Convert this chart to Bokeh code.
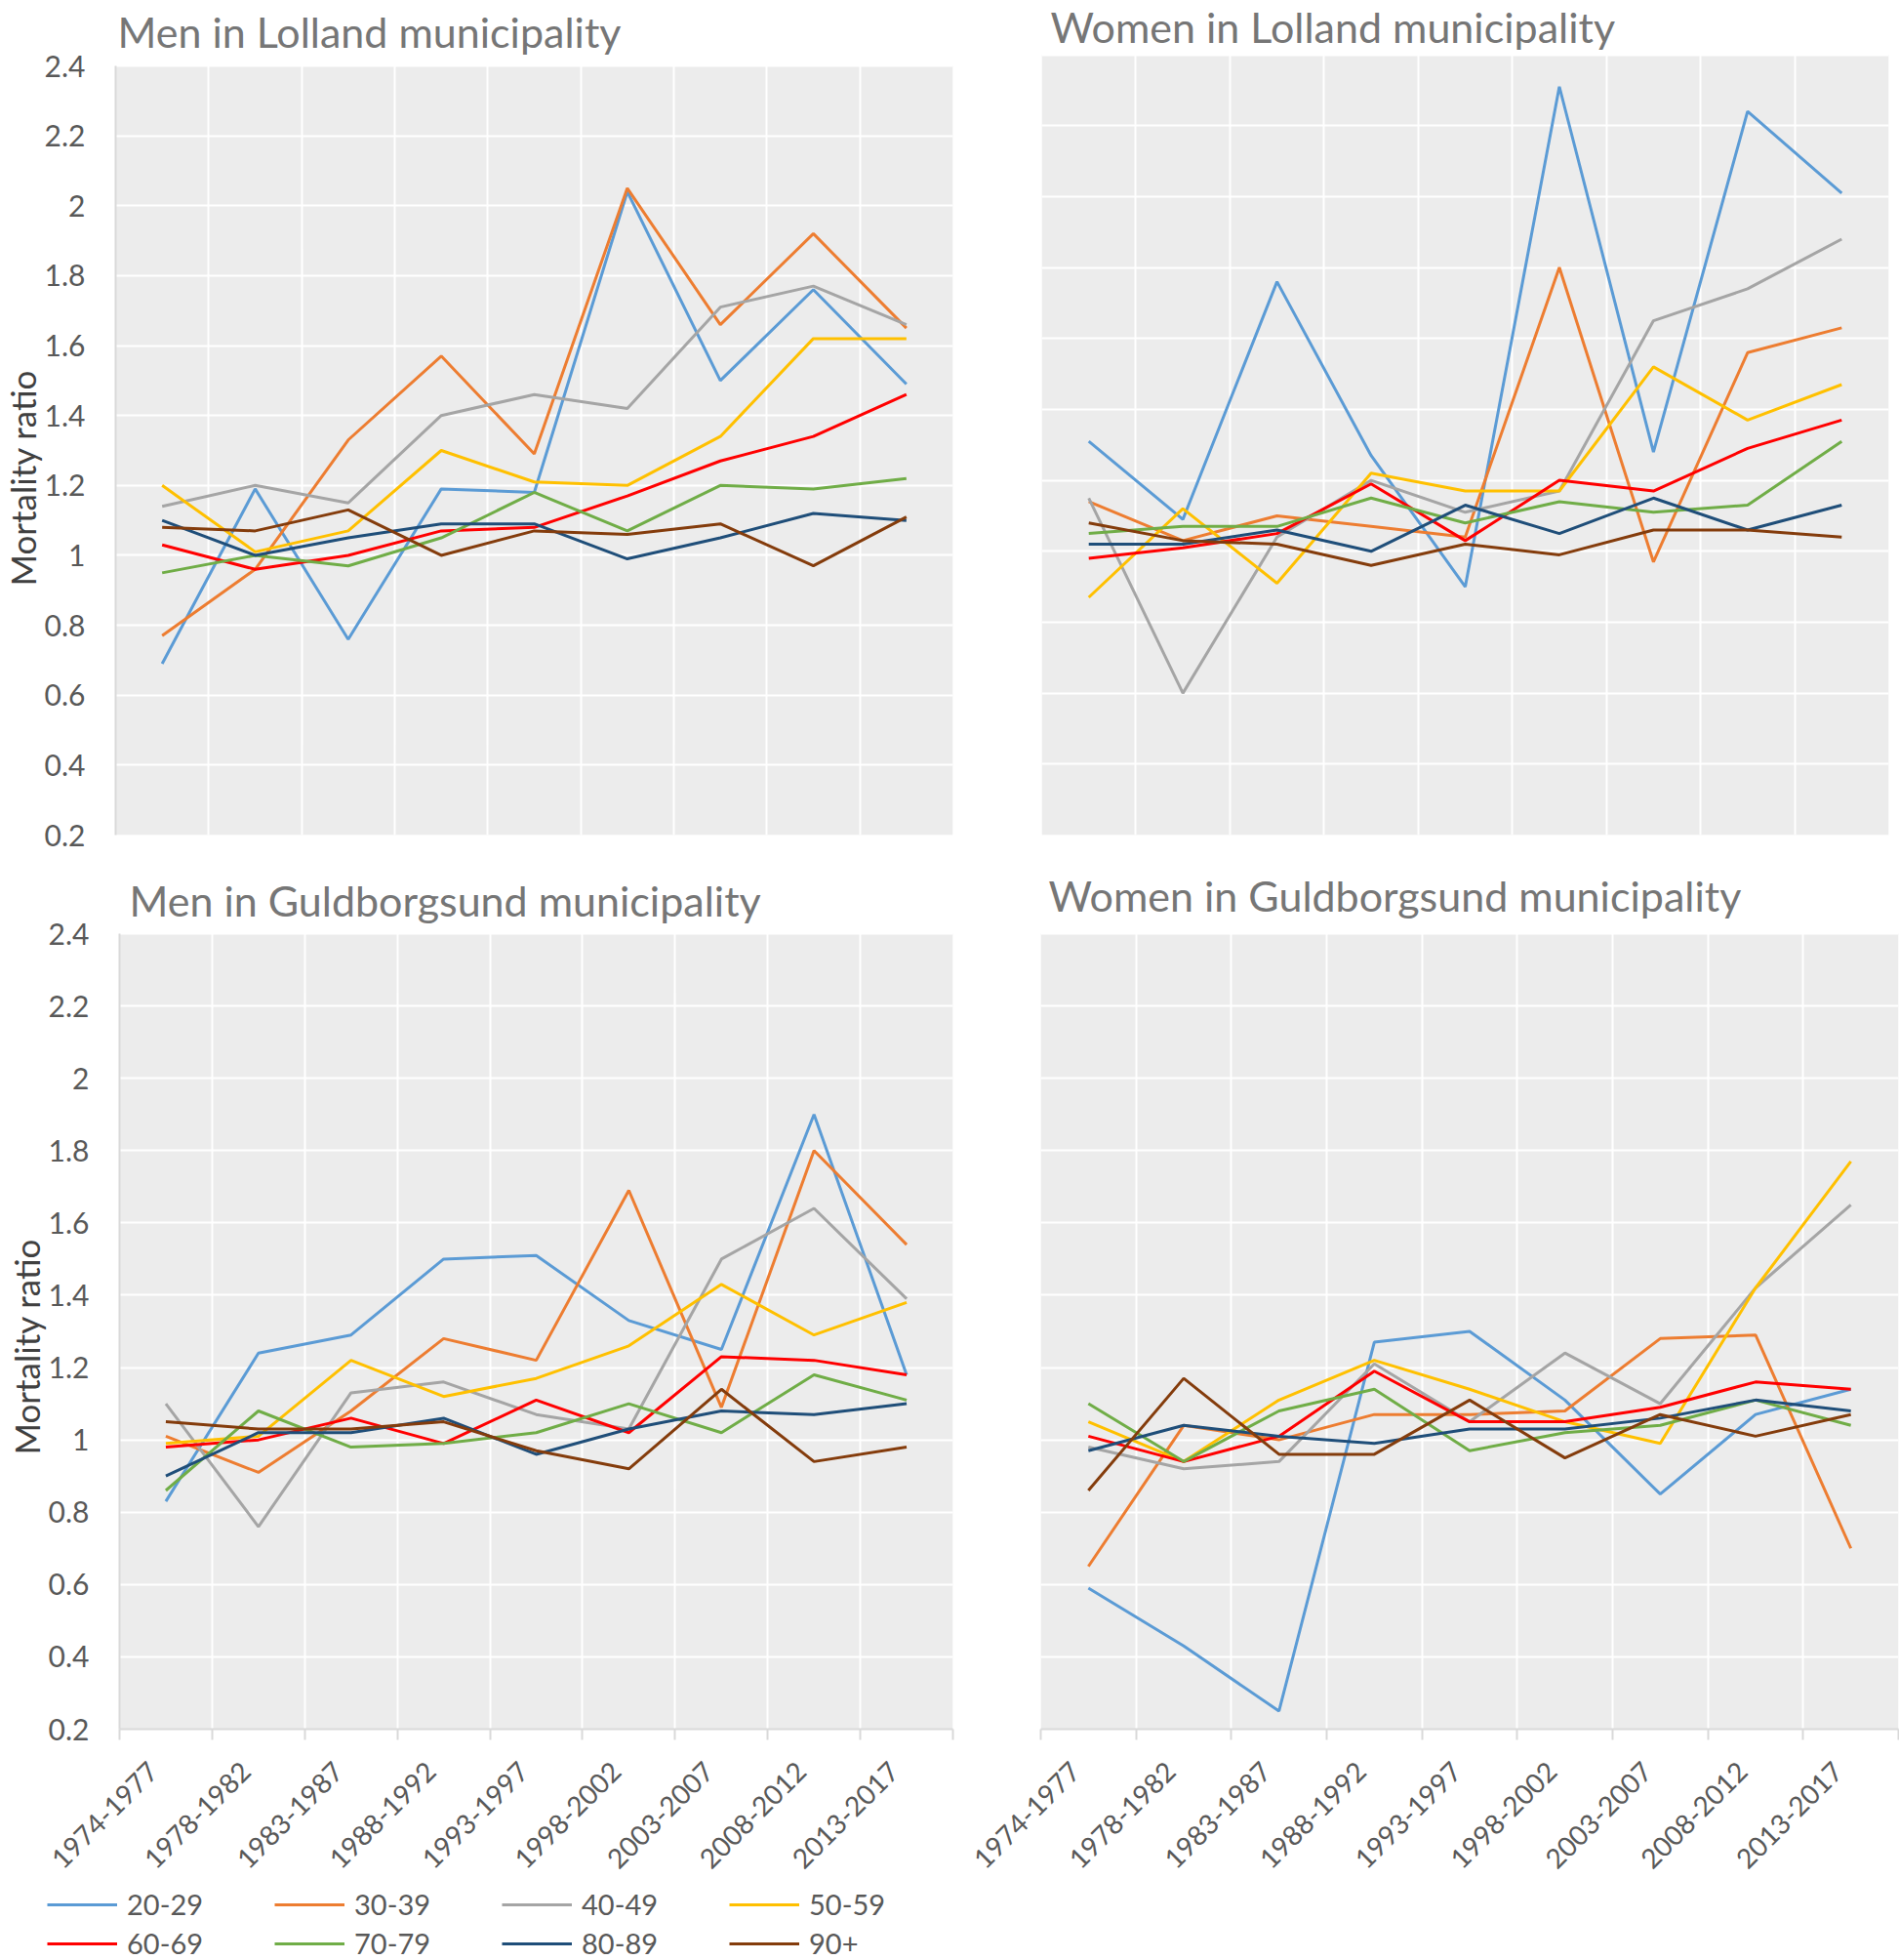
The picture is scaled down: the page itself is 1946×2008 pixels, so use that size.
import math
from bokeh.plotting import figure
from bokeh.models import (Range1d, FixedTicker, NumeralTickFormatter, Label, Legend,
                          LegendItem, BoxAnnotation, Title)
from bokeh.layouts import row, column
from bokeh.embed import file_html
from bokeh.resources import INLINE

# ---------------- data ----------------
periods = ["1974-1977", "1978-1982", "1983-1987", "1988-1992", "1993-1997",
           "1998-2002", "2003-2007", "2008-2012", "2013-2017"]
age_groups = ["20-29", "30-39", "40-49", "50-59", "60-69", "70-79", "80-89", "90+"]
colors = ["#5B9BD5", "#ED7D31", "#A5A5A5", "#FFC000", "#FF0000", "#70AD47", "#1F4E79", "#843C0C"]
y_ticks = [0.2, 0.4, 0.6, 0.8, 1.0, 1.2, 1.4, 1.6, 1.8, 2.0, 2.2, 2.4]
Y_MIN, Y_MAX = 0.2, 2.4

# Men in Lolland municipality
men_lolland = [
    [0.69, 1.19, 0.76, 1.19, 1.18, 2.04, 1.50, 1.76, 1.49],  # 20-29
    [0.77, 0.96, 1.33, 1.57, 1.29, 2.05, 1.66, 1.92, 1.65],  # 30-39
    [1.14, 1.20, 1.15, 1.40, 1.46, 1.42, 1.71, 1.77, 1.66],  # 40-49
    [1.20, 1.01, 1.07, 1.30, 1.21, 1.20, 1.34, 1.62, 1.62],  # 50-59
    [1.03, 0.96, 1.00, 1.07, 1.08, 1.17, 1.27, 1.34, 1.46],  # 60-69
    [0.95, 1.00, 0.97, 1.05, 1.18, 1.07, 1.20, 1.19, 1.22],  # 70-79
    [1.10, 1.00, 1.05, 1.09, 1.09, 0.99, 1.05, 1.12, 1.10],  # 80-89
    [1.08, 1.07, 1.13, 1.00, 1.07, 1.06, 1.09, 0.97, 1.11],  # 90+
]
# Women in Lolland municipality
women_lolland = [
    [1.31, 1.09, 1.76, 1.27, 0.90, 2.31, 1.28, 2.24, 2.01],
    [1.14, 1.03, 1.10, 1.07, 1.04, 1.80, 0.97, 1.56, 1.63],
    [1.15, 0.60, 1.04, 1.20, 1.11, 1.17, 1.65, 1.74, 1.88],
    [0.87, 1.12, 0.91, 1.22, 1.17, 1.17, 1.52, 1.37, 1.47],
    [0.98, 1.01, 1.05, 1.19, 1.03, 1.20, 1.17, 1.29, 1.37],
    [1.05, 1.07, 1.07, 1.15, 1.08, 1.14, 1.11, 1.13, 1.31],
    [1.02, 1.02, 1.06, 1.00, 1.13, 1.05, 1.15, 1.06, 1.13],
    [1.08, 1.03, 1.02, 0.96, 1.02, 0.99, 1.06, 1.06, 1.04],
]
# Men in Guldborgsund municipality
men_guldborgsund = [
    [0.83, 1.24, 1.29, 1.50, 1.51, 1.33, 1.25, 1.90, 1.18],
    [1.01, 0.91, 1.08, 1.28, 1.22, 1.69, 1.09, 1.80, 1.54],
    [1.10, 0.76, 1.13, 1.16, 1.07, 1.03, 1.50, 1.64, 1.39],
    [0.99, 1.01, 1.22, 1.12, 1.17, 1.26, 1.43, 1.29, 1.38],
    [0.98, 1.00, 1.06, 0.99, 1.11, 1.02, 1.23, 1.22, 1.18],
    [0.86, 1.08, 0.98, 0.99, 1.02, 1.10, 1.02, 1.18, 1.11],
    [0.90, 1.02, 1.02, 1.06, 0.96, 1.03, 1.08, 1.07, 1.10],
    [1.05, 1.03, 1.03, 1.05, 0.97, 0.92, 1.14, 0.94, 0.98],
]
# Women in Guldborgsund municipality
women_guldborgsund = [
    [0.59, 0.43, 0.25, 1.27, 1.30, 1.11, 0.85, 1.07, 1.14],
    [0.65, 1.04, 1.00, 1.07, 1.07, 1.08, 1.28, 1.29, 0.70],
    [0.98, 0.92, 0.94, 1.21, 1.05, 1.24, 1.10, 1.42, 1.65],
    [1.05, 0.94, 1.11, 1.22, 1.14, 1.05, 0.99, 1.42, 1.77],
    [1.01, 0.94, 1.01, 1.19, 1.05, 1.05, 1.09, 1.16, 1.14],
    [1.10, 0.94, 1.08, 1.14, 0.97, 1.02, 1.04, 1.11, 1.04],
    [0.97, 1.04, 1.01, 0.99, 1.03, 1.03, 1.06, 1.11, 1.08],
    [0.86, 1.17, 0.96, 0.96, 1.11, 0.95, 1.07, 1.01, 1.07],
]

FONT = "Lato"
GREY_TXT = "#595959"
TITLE_TXT = "#767676"
AXIS_LINE = "#D9D9D9"
PLOT_BG = "#ECECEC"

x_idx = list(range(len(periods)))
boundaries = [i - 0.5 for i in range(len(periods) + 1)]
label_pos = [i - 0.14 for i in x_idx]   # anchor points of the rotated period labels


def make_panel(series, title, width, height, bl, br, title_space, data_px, bb,
               title_dx, title_y, show_y, show_x, ylabel_offset=0):
    """title_space: pixels above the grey plot area (inside the frame, holds the title);
    data_px: height of the grey plot area in pixels."""
    y_top = Y_MAX + title_space * (Y_MAX - Y_MIN) / data_px
    p = figure(width=width, height=height,
               x_range=Range1d(-0.5, len(periods) - 0.5), y_range=Range1d(Y_MIN, y_top),
               output_backend="svg", toolbar_location=None,
               min_border_left=bl, min_border_right=br,
               min_border_top=0, min_border_bottom=bb)
    p.background_fill_color = "white"
    p.border_fill_color = "white"
    p.outline_line_color = None

    # grey plot area
    p.add_layout(BoxAnnotation(left=-0.5, right=len(periods) - 0.5, bottom=Y_MIN, top=Y_MAX,
                               fill_color=PLOT_BG, fill_alpha=1.0, line_color=None,
                               level="image"))

    # grid
    p.xgrid.ticker = FixedTicker(ticks=boundaries)
    p.ygrid.ticker = FixedTicker(ticks=y_ticks)
    for g in (p.xgrid, p.ygrid):
        g.grid_line_color = "white"
        g.grid_line_width = 2

    # x axis
    xa = p.xaxis[0]
    if show_x:
        xa.ticker = FixedTicker(ticks=label_pos, minor_ticks=boundaries)
        xa.major_label_overrides = {pos: lbl for pos, lbl in zip(label_pos, periods)}
        xa.major_label_orientation = math.pi / 4
        xa.major_tick_out = 11
        xa.major_tick_in = 0
        xa.major_tick_line_color = None
        xa.minor_tick_out = 11
        xa.minor_tick_in = 0
        xa.minor_tick_line_color = AXIS_LINE
        xa.minor_tick_line_width = 2
        xa.axis_line_color = AXIS_LINE
        xa.axis_line_width = 2
        xa.major_label_text_font = FONT
        xa.major_label_text_font_size = "28px"
        xa.major_label_text_color = GREY_TXT
        xa.major_label_standoff = 27
    else:
        xa.visible = False

    # y axis
    ya = p.yaxis[0]
    if show_y:
        ya.bounds = (Y_MIN, Y_MAX)
        ya.ticker = FixedTicker(ticks=y_ticks)
        ya.formatter = NumeralTickFormatter(format="0.[0]")
        ya.major_tick_out = 0
        ya.major_tick_in = 0
        ya.minor_tick_out = 0
        ya.minor_tick_in = 0
        ya.axis_line_color = AXIS_LINE
        ya.axis_line_width = 2
        ya.major_label_text_font = FONT
        ya.major_label_text_font_size = "30px"
        ya.major_label_text_color = GREY_TXT
        ya.major_label_standoff = 31
        # vertical axis title, placed beside the grey plot area
        p.add_layout(Title(text="Mortality ratio", align="left", offset=ylabel_offset,
                           vertical_align="top", standoff=-6,
                           text_font=FONT, text_font_size="35px", text_font_style="normal",
                           text_color="#404040"), "left")
    else:
        ya.visible = False

    renderers = []
    for vals, col in zip(series, colors):
        r = p.line(x_idx, vals, line_color=col, line_width=3)
        renderers.append(r)

    frame_h = title_space + data_px
    p.add_layout(Label(x=title_dx, y=frame_h - title_y, x_units="screen", y_units="screen",
                       text=title, text_font=FONT, text_font_size="43px",
                       text_color=TITLE_TXT, text_baseline="alphabetic", text_align="left"))
    return p, renderers


# top row: 880 px tall; bottom row: 1053 px tall; legend strip: 75 px
p1, _ = make_panel(men_lolland, "Men in Lolland municipality",
                   1000, 880, 118, 24, 67, 788, 25, 2, 32, True, False, ylabel_offset=255)
p2, _ = make_panel(women_lolland, "Women in Lolland municipality",
                   946, 880, 67, 11, 56, 806, 18, 9, 34, False, False)
p3, _ = make_panel(men_guldborgsund, "Men in Guldborgsund municipality",
                   978, 1053, 122, 2, 76, 815, 162, 10, 42, True, True, ylabel_offset=281)
p4, _ = make_panel(women_guldborgsund, "Women in Guldborgsund municipality",
                   968, 1053, 88, 1, 76, 816, 161, 8, 38, False, True)

# legend strip below the left-hand charts (its lines lie outside the strip's visible range)
pl = figure(width=1000, height=75, x_range=Range1d(0, 1), y_range=Range1d(10, 11),
            output_backend="svg", toolbar_location=None,
            min_border_left=0, min_border_right=0, min_border_top=0, min_border_bottom=0)
pl.xaxis.visible = False
pl.yaxis.visible = False
pl.grid.visible = False
pl.outline_line_color = None
pl.background_fill_color = "white"
leg_items = []
for a, vals, col in zip(age_groups, men_guldborgsund, colors):
    r = pl.line(x_idx, vals, line_color=col, line_width=3)
    leg_items.append(LegendItem(label=a, renderers=[r]))
legend = Legend(items=leg_items, location=(48, 0), orientation="horizontal", ncols=4,
                glyph_width=72, glyph_height=24, label_height=24, label_width=146,
                label_standoff=10, spacing=5, padding=0, margin=0,
                border_line_color=None, background_fill_alpha=0,
                label_text_font=FONT, label_text_font_size="29px",
                label_text_color=GREY_TXT)
pl.add_layout(legend, "center")

layout = column(row(p1, p2), row(p3, p4), pl)

open("out.html", "w").write(file_html(layout, INLINE))
